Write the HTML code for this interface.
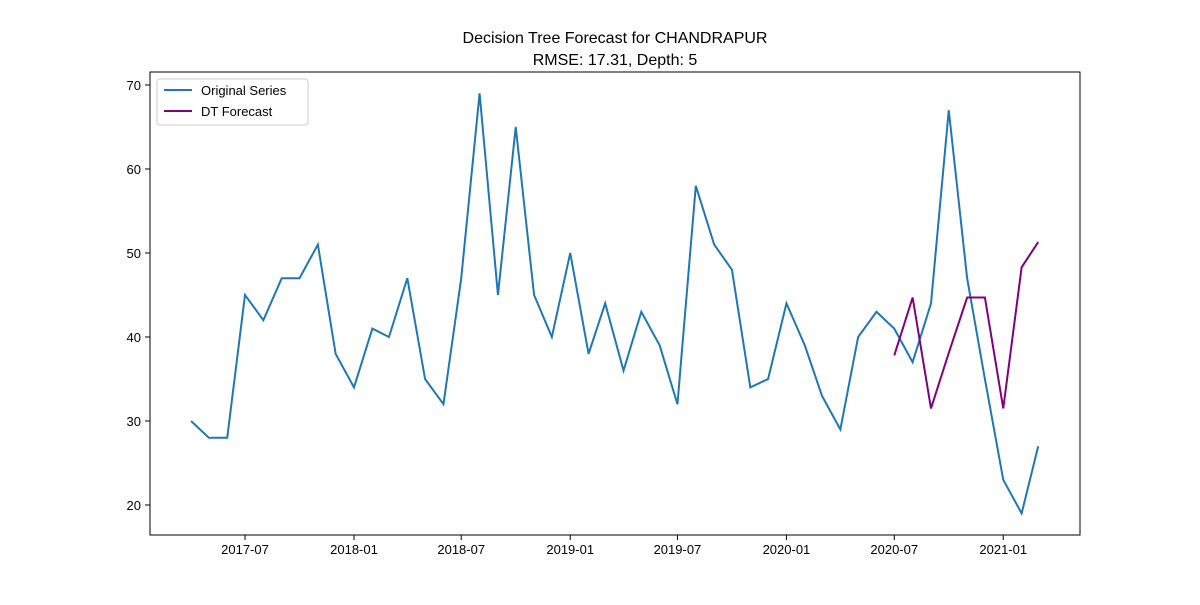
<!DOCTYPE html>
<html><head><meta charset="utf-8"><style>
body{margin:0;background:#fff;font-family:"Liberation Sans","DejaVu Sans",sans-serif;}
</style></head><body>
<svg width="1200" height="600" xmlns="http://www.w3.org/2000/svg">
<rect width="1200" height="600" fill="#fff"/>
<text x="615" y="43" text-anchor="middle" font-size="16">Decision Tree Forecast for CHANDRAPUR</text>
<text x="615" y="65" text-anchor="middle" font-size="16">RMSE: 17.31, Depth: 5</text>
<g id="plot"></g>
<rect x="150" y="72" width="930" height="463" fill="none" stroke="#000" stroke-width="1"/>
<g>
<rect x="157" y="79" width="151" height="46" rx="3" fill="#fff" stroke="#ccc"/>
<line x1="164" y1="90" x2="192" y2="90" stroke="#1f77b4" stroke-width="2"/>
<text x="201" y="95" font-size="13">Original Series</text>
<line x1="164" y1="111" x2="192" y2="111" stroke="purple" stroke-width="2"/>
<text x="201" y="116" font-size="13">DT Forecast</text>
</g>
</svg>
<script>
const origDates=["2017-04","2017-05","2017-06","2017-07","2017-08","2017-09","2017-10","2017-11","2017-12","2018-01","2018-02","2018-03","2018-04","2018-05","2018-06","2018-07","2018-08","2018-09","2018-10","2018-11","2018-12","2019-01","2019-02","2019-03","2019-04","2019-05","2019-06","2019-07","2019-08","2019-09","2019-10","2019-11","2019-12","2020-01","2020-02","2020-03","2020-04","2020-05","2020-06","2020-07","2020-08","2020-09","2020-10","2020-11","2020-12","2021-01","2021-02","2021-03"];
const origValues=[30,28,28,45,42,47,47,51,38,34,41,40,47,35,32,47,69,45,65,45,40,50,38,44,36,43,39,32,58,51,48,34,35,44,39,33,29,40,43,41,37,44,67,47,35,23,19,27];
const fcDates=["2020-07","2020-08","2020-09","2020-10","2020-11","2020-12","2021-01","2021-02","2021-03"];
const fcValues=[37.8,44.7,31.5,38.1,44.7,44.7,31.5,48.3,51.3];
const xTicks=["2017-07","2018-01","2018-07","2019-01","2019-07","2020-01","2020-07","2021-01"];
const yTicks=[20,30,40,50,60,70];
const NS="http://www.w3.org/2000/svg";
const g=document.getElementById('plot');
const d0=Date.UTC(2017,6,1);
function x(s){const [y,m]=s.split('-').map(Number);return 245+(Date.UTC(y,m-1,1)-d0)/86400000*(109/184);}
function y(v){return 505-(v-20)*8.4;}
function el(t,a){const e=document.createElementNS(NS,t);for(const k in a)e.setAttribute(k,a[k]);g.appendChild(e);return e;}
xTicks.forEach(t=>{const X=x(t);
const l=el('line',{x1:X,x2:X,y1:535,y2:540,stroke:'#000'});


const tx=el('text',{x:X,y:554,'text-anchor':'middle','font-size':13});tx.textContent=t;

});
yTicks.forEach(t=>{const Y=y(t);
const l=el('line',{x1:145,x2:150,y1:Y,y2:Y,stroke:'#000'});


const tx=el('text',{x:141,y:Y+5,'text-anchor':'end','font-size':13});tx.textContent=t;

});
const p1=el('polyline',{points:origDates.map((d,i)=>x(d)+','+y(origValues[i])).join(' '),fill:'none',stroke:'#1f77b4','stroke-width':2});


const p2=el('polyline',{points:fcDates.map((d,i)=>x(d)+','+y(fcValues[i])).join(' '),fill:'none',stroke:'purple','stroke-width':2});


</script>
</body></html>
